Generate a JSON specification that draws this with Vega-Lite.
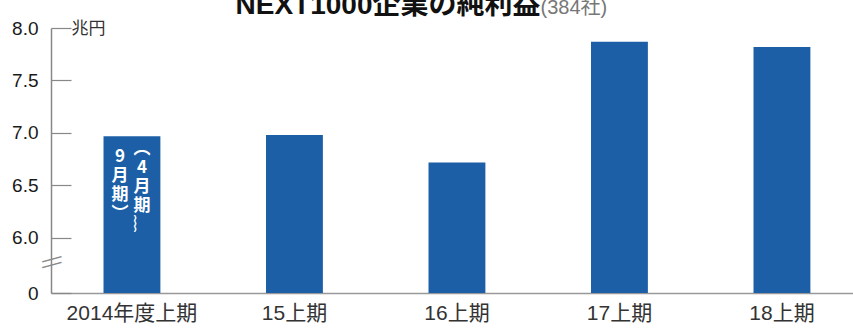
{
  "$schema": "https://vega.github.io/schema/vega-lite/v6.json",
  "width": 802,
  "height": 265,
  "autosize": "none",
  "padding": {"left": 51, "top": 28, "right": 0, "bottom": 37},
  "background": "white",
  "config": {"view": {"stroke": null}, "axis": {"labelOverlap": false}},
  "datasets": {
    "bars": [
      {"period": "2014年度上期", "value": 6.97},
      {"period": "15上期", "value": 6.98},
      {"period": "16上期", "value": 6.72},
      {"period": "17上期", "value": 7.87},
      {"period": "18上期", "value": 7.82}
    ],
    "notes": [
      {"period": "2014年度上期", "col": "right", "label": "︵|4|月|期|︴"},
      {"period": "2014年度上期", "col": "left", "label": "9|月|期|︶"}
    ]
  },
  "encoding": {
    "x": {
      "field": "period",
      "type": "nominal",
      "sort": null,
      "scale": {"paddingInner": 0.65, "paddingOuter": 0.2927, "align": 0.552},
      "axis": {
        "title": "(384社)",
        "titleX": 489,
        "titleY": -280,
        "titleAlign": "left",
        "titleBaseline": "alphabetic",
        "titleAnchor": null,
        "titleFontSize": 20,
        "titleFontWeight": "normal",
        "titleFont": "Liberation Sans, Noto Sans CJK JP",
        "titleColor": "#777",
        "labelAngle": 0,
        "ticks": false,
        "labelPadding": 9,
        "labelBaseline": "top",
        "labelFontSize": 21,
        "labelFont": "Liberation Sans, Noto Sans CJK JP",
        "labelColor": "#333",
        "domainColor": "#999",
        "domainWidth": 1.5
      }
    }
  },
  "layer": [
    {
      "data": {"name": "bars"},
      "mark": {"type": "bar", "color": "#1c5fa7"},
      "encoding": {
        "y": {
          "field": "value",
          "type": "quantitative",
          "scale": {"domain": [5.476, 8], "nice": false, "zero": false},
          "axis": {
            "values": [5.476, 6, 6.5, 7, 7.5, 8],
            "labelExpr": "datum.value < 5.5 ? '0' : format(datum.value, '.1f')",
            "labelOverlap": false,
            "title": "兆円",
            "titleAngle": 0,
            "titleX": 20,
            "titleY": 0,
            "titleAlign": "left",
            "titleBaseline": "middle",
            "titleFontSize": 17,
            "titleFontWeight": "normal",
            "titleFont": "Noto Sans CJK JP",
            "titleColor": "#333",
            "tickSize": -20,
            "tickColor": "#888",
            "tickWidth": 1.2,
            "domainColor": "#888",
            "domainWidth": 1.5,
            "grid": false,
            "labelFont": "Liberation Sans",
            "labelFontSize": 19,
            "labelColor": "#1a1a1a",
            "labelPadding": 33
          }
        },
        "y2": {"datum": 5.476}
      }
    },
    {
      "data": {"name": "notes"},
      "transform": [{"filter": "datum.col == 'right'"}],
      "mark": {"type": "text", "color": "white", "fontSize": 17, "fontWeight": "bold", "font": "Noto Sans CJK JP", "lineBreak": "|", "lineHeight": 19, "baseline": "top", "align": "center", "dx": 10},
      "encoding": {
        "y": {
          "datum": 6.92,
          "type": "quantitative",
          "scale": {"domain": [5.476, 8], "nice": false, "zero": false},
          "axis": {
            "orient": "right",
            "offset": -802,
            "values": [5.755, 5.81],
            "labelExpr": "'—'",
            "labelOverlap": false,
            "labelAngle": -15,
            "labelAlign": "center",
            "labelBaseline": "middle",
            "labelPadding": 0,
            "labelFont": "Liberation Sans",
            "labelFontSize": 20,
            "labelColor": "#888",
            "ticks": false,
            "domain": false,
            "grid": false,
            "title": "NEXT1000企業の純利益",
            "titleAngle": 0,
            "titleX": 184,
            "titleY": -15,
            "titleAlign": "left",
            "titleBaseline": "alphabetic",
            "titleFontSize": 28,
            "titleFontWeight": "bold",
            "titleFont": "Liberation Sans, Noto Sans CJK JP",
            "titleColor": "#111"
          }
        },
        "text": {"field": "label"}
      }
    },
    {
      "data": {"name": "notes"},
      "transform": [{"filter": "datum.col == 'left'"}],
      "mark": {"type": "text", "color": "white", "fontSize": 17, "fontWeight": "bold", "font": "Noto Sans CJK JP", "lineBreak": "|", "lineHeight": 19, "baseline": "top", "align": "center", "dx": -12},
      "encoding": {
        "y": {
          "datum": 6.85,
          "type": "quantitative",
          "scale": {"domain": [5.476, 8], "nice": false, "zero": false},
          "axis": null
        },
        "text": {"field": "label"}
      }
    }
  ],
  "resolve": {"scale": {"y": "independent"}, "axis": {"y": "independent"}}
}
